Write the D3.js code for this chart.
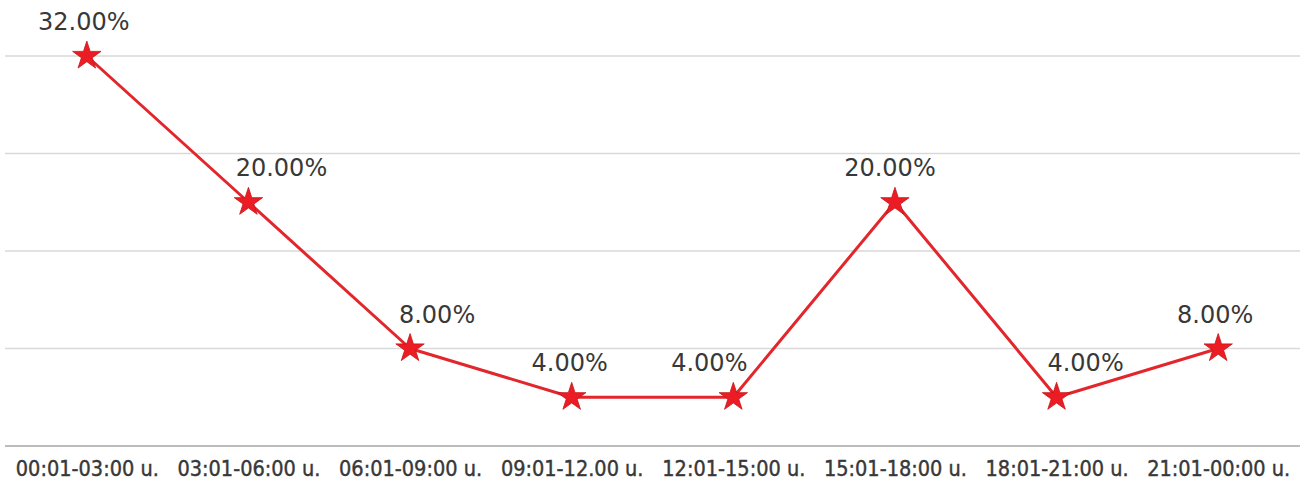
<!DOCTYPE html>
<html>
<head>
<meta charset="utf-8">
<script src="https://cdn.jsdelivr.net/npm/d3@7"></script>
<style>
  body { margin: 0; background: #fff; }
  svg { display: block; }
</style>
</head>
<body>
<svg class="chart" width="1303" height="479"></svg>
<script>
var categories = ["00:01-03:00 u.", "03:01-06:00 u.", "06:01-09:00 u.", "09:01-12.00 u.",
                  "12:01-15:00 u.", "15:01-18:00 u.", "18:01-21:00 u.", "21:01-00:00 u."];
var values = [32, 20, 8, 4, 4, 20, 4, 8];
var gridTicks = [8, 16, 24, 32];
// horizontal nudge of each value label, as placed in the original
var labelShift = [-3, 33, 27, -2, -24, -5, 29, -3];

var line_color = '#e3262b';
var star_color = '#ec1c24';
var grid_color = '#d9d9d9';
var axis_color = '#a6a6a6';
var text_color = '#383838';

var svg = d3.select(".chart"),
    width = +svg.attr("width"),
    height = +svg.attr("height");

var x = d3.scalePoint().domain(categories).range([6, 1299]).padding(0.5);
var y = d3.scaleLinear().domain([0, 32]).range([446, 56]);

// gridlines
svg.append("g")
    .selectAll("line")
    .data(gridTicks)
    .enter()
    .append("line")
    .attr("x1", 5)
    .attr("x2", 1300)
    .attr("y1", function(d) { return y(d); })
    .attr("y2", function(d) { return y(d); })
    .attr("stroke", grid_color)
    .attr("stroke-width", 1.5);

// x axis
var xAxis = svg.append("g")
    .attr("transform", "translate(0," + y(0) + ")")
    .call(d3.axisBottom(x).tickSize(0).tickPadding(0));
xAxis.select(".domain")
    .attr("d", "M5,0H1300")
    .attr("stroke", axis_color)
    .attr("stroke-width", 1.5);
xAxis.selectAll("text")
    .attr("dy", null)
    .attr("y", 29.5)
    .attr("fill", text_color)
    .attr("stroke", text_color)
    .attr("stroke-width", 0.4)
    .attr("font-family", "'DejaVu Sans Condensed', 'DejaVu Sans', sans-serif")
    .attr("font-size", 21.5);

var pts = categories.map(function(c, i) { return {c: c, v: values[i], s: labelShift[i]}; });

var lineFunction = d3.line()
    .x(function(d) { return x(d.c); })
    .y(function(d) { return y(d.v); });

svg.append("path")
    .attr("d", lineFunction(pts))
    .attr("fill", "none")
    .attr("stroke", line_color)
    .attr("stroke-width", 3)
    .attr("stroke-linejoin", "round");

svg.append("g")
    .selectAll("path")
    .data(pts)
    .enter()
    .append("path")
    .attr("d", d3.symbol().type(d3.symbolStar).size(250))
    .attr("transform", function(d) { return "translate(" + x(d.c) + "," + y(d.v) + ")"; })
    .attr("fill", star_color)
    .attr("stroke", "#c4161c")
    .attr("stroke-width", 0.8);

svg.append("g")
    .selectAll("text")
    .data(pts)
    .enter()
    .append("text")
    .attr("x", function(d) { return x(d.c) + d.s; })
    .attr("y", function(d) { return y(d.v) - 26; })
    .attr("text-anchor", "middle")
    .attr("fill", text_color)
    .attr("font-family", "'DejaVu Sans', sans-serif")
    .attr("font-size", 24)
    .text(function(d) { return d.v.toFixed(2) + "%"; });
</script>
</body>
</html>
